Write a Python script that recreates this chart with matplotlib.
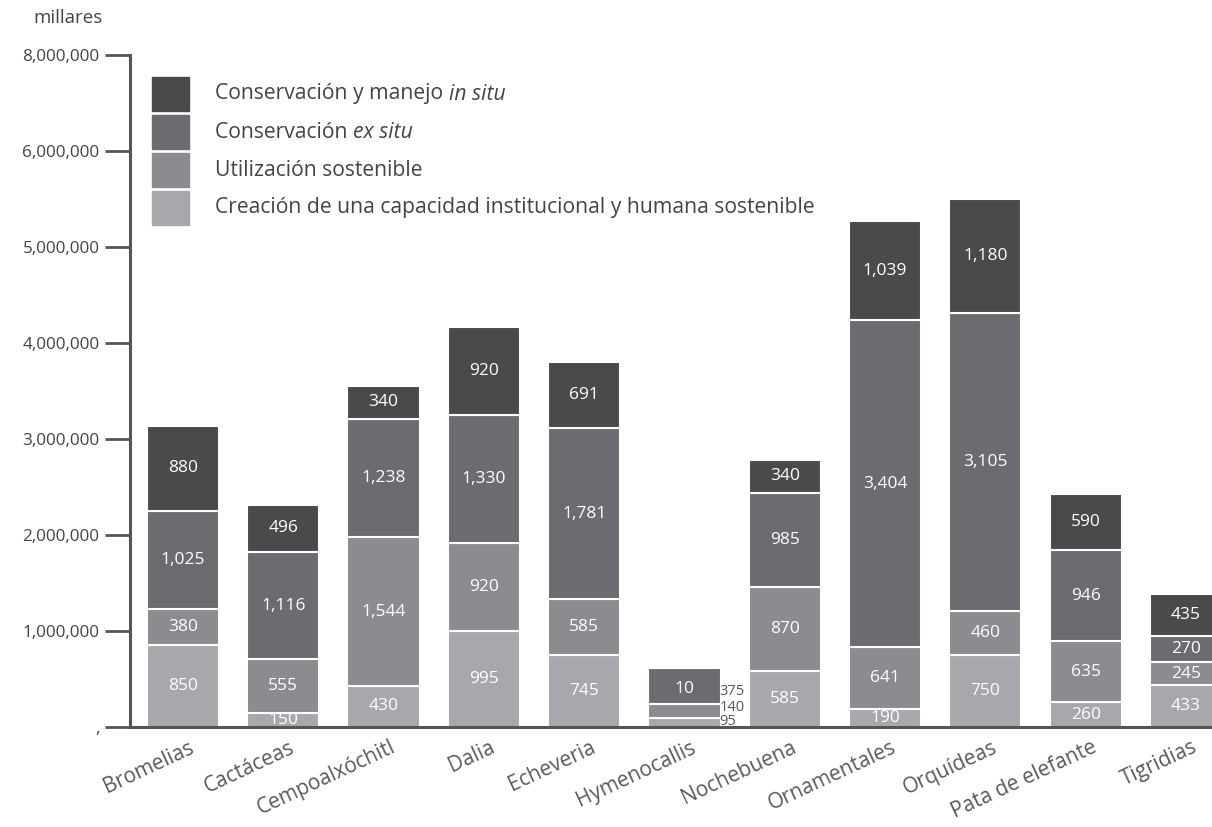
import numpy as np
import matplotlib.pyplot as plt
from matplotlib.patches import Rectangle
from matplotlib.transforms import ScaledTranslation, blended_transform_factory

plt.rcParams['font.family'] = ['Open Sans', 'DejaVu Sans']

# datos (millares)
categorias = ["Bromelias", "Cactáceas", "Cempoalxóchitl", "Dalia", "Echeveria",
              "Hymenocallis", "Nochebuena", "Ornamentales", "Orquídeas",
              "Pata de elefante", "Tigridias"]
capacidad = [850, 150, 430, 995, 745, 95, 585, 190, 750, 260, 433]
utilizacion = [380, 555, 1544, 920, 585, 140, 870, 641, 460, 635, 245]
ex_situ = [1025, 1116, 1238, 1330, 1781, 375, 985, 3404, 3105, 946, 270]
in_situ = [880, 496, 340, 920, 691, 10, 340, 1039, 1180, 590, 435]

series = [capacidad, utilizacion, ex_situ, in_situ]
colores = ["#a7a8ab", "#8b8c8f", "#6b6c70", "#4a4a4d"]

yticks = [0, 1000000, 2000000, 3000000, 4000000, 5000000, 6000000, 7000000]
ytick_labels = [",", "1,000,000", "2,000,000", "3,000,000", "4,000,000",
                "5,000,000", "6,000,000", "8,000,000"]

fig = plt.figure(figsize=(12.12, 8.27), dpi=100)
ax = fig.add_axes([130 / 1212, 100 / 827, 1 - 130 / 1212, 672 / 827])

x = np.arange(len(categorias))
ancho = 0.72
base = np.zeros(len(categorias))
for vals, col in zip(series, colores):
    v = np.array(vals) * 1000.0
    ax.bar(x, v, ancho, bottom=base, color=col, edgecolor="white", linewidth=1.5)
    for i in range(len(categorias)):
        if categorias[i] == "Hymenocallis":
            continue
        ax.text(x[i], base[i] + v[i] / 2, f"{vals[i]:,}", ha="center", va="center",
                color="white", fontsize=12.5)
    base += v

# Hymenocallis: etiquetas fuera de la barra
h = categorias.index("Hymenocallis")
top_h = (capacidad[h] + utilizacion[h]) * 1000
ax.text(x[h], top_h + (ex_situ[h] + in_situ[h]) * 1000 / 2 - 30000, str(in_situ[h]),
        ha="center", va="center", color="white", fontsize=12.5)
xo = x[h] + ancho / 2 - 0.01
ax.text(xo, 365000, str(ex_situ[h]), ha="left", va="center",
        color="#555555", fontsize=10.5)
ax.text(xo, 205000, str(utilizacion[h]), ha="left", va="center",
        color="#555555", fontsize=10.5)
ax.text(xo, 62000, str(capacidad[h]), ha="left", va="center",
        color="#555555", fontsize=10.5)

ax.set_xlim(-0.528, 10.26)
ax.set_ylim(0, 7000000)
ax.set_yticks(yticks)
ax.set_yticklabels(ytick_labels, fontsize=12.3, color="#444444")
ax.set_xticks(x)
ax.set_xticklabels([])
ax.tick_params(axis="y", length=18, width=2, color="#555555", pad=4)
ax.tick_params(axis="x", length=0)

# etiquetas de categoría, giradas
trans = blended_transform_factory(ax.transData, ax.transAxes) + \
    ScaledTranslation(6 / 100, -10 / 100, fig.dpi_scale_trans)
for i, nombre in enumerate(categorias):
    ax.text(x[i], 0, nombre, transform=trans, rotation=25, ha="right", va="top",
            rotation_mode="anchor", fontsize=15, color="#5a5a5a", clip_on=False)

for s in ["top", "right"]:
    ax.spines[s].set_visible(False)
ax.spines["left"].set_color("#555555")
ax.spines["left"].set_linewidth(2.2)
ax.spines["bottom"].set_color("#555555")
ax.spines["bottom"].set_linewidth(2.2)

fig.text(33 / 1212, 1 - 18 / 827, "millares", fontsize=13.5, color="#444444",
         va="center", ha="left")

# leyenda
leyenda = [("Conservación y manejo ", "in situ"), ("Conservación ", "ex situ"),
           ("Utilización sostenible", ""),
           ("Creación de una capacidad institucional y humana sostenible", "")]
fig.canvas.draw()
r = fig.canvas.get_renderer()
for k, (normal, it) in enumerate(leyenda):
    yc = 94 + k * 38
    fig.patches.append(Rectangle((152 / 1212, 1 - (yc + 17) / 827), 37 / 1212, 34 / 827,
                                 transform=fig.transFigure, color=colores[3 - k]))
    t = fig.text(215 / 1212, 1 - yc / 827, normal, fontsize=15.2, color="#444444",
                 va="center", ha="left")
    if it:
        bb = t.get_window_extent(r)
        fig.text(bb.x1 / 1212, 1 - yc / 827, it, fontsize=15.2, color="#444444",
                 va="center", ha="left", style="italic")

fig.savefig("out.png", dpi=100)
